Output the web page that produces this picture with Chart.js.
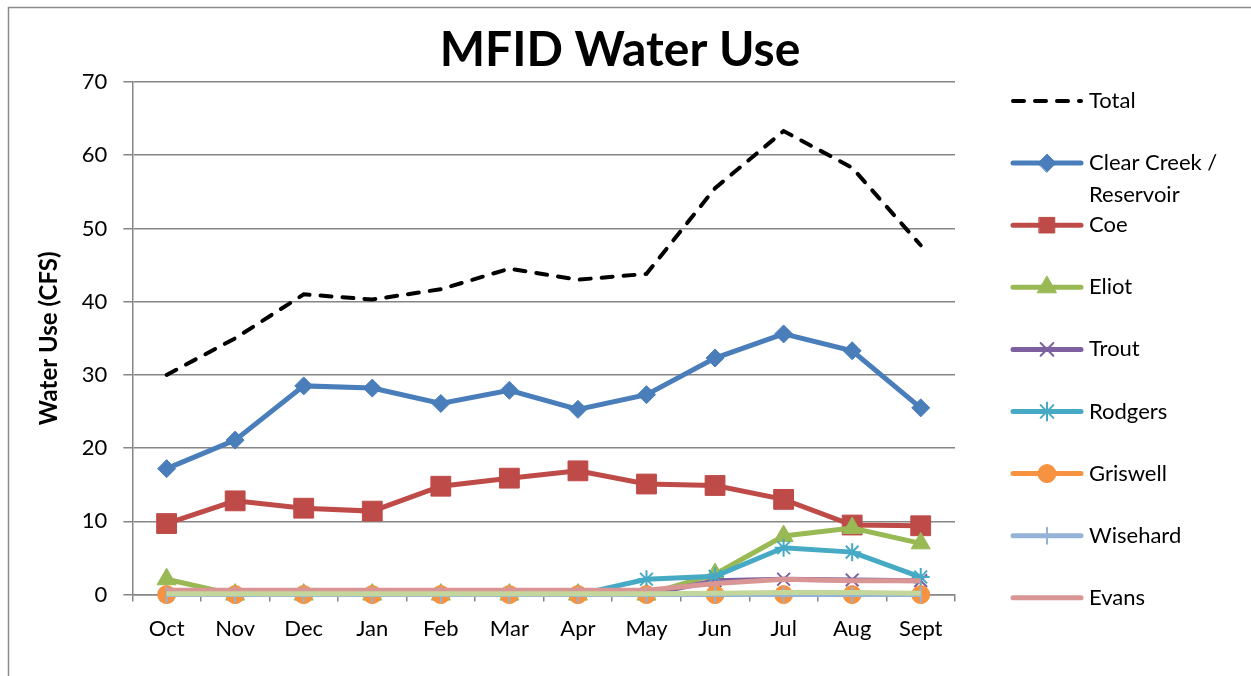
<!DOCTYPE html>
<html>
<head>
<meta charset="utf-8">
<script src="https://cdn.jsdelivr.net/npm/chart.js@4.4.0/dist/chart.umd.min.js"></script>
<style>
  html, body { margin: 0; padding: 0; background: #fff; }
  #wrap { width: 1251px; height: 676px; position: relative; }
</style>
</head>
<body>
<div id="wrap"><canvas id="chart" width="1251" height="676"></canvas></div>
<script>
// Month labels
const months = ['Oct', 'Nov', 'Dec', 'Jan', 'Feb', 'Mar', 'Apr', 'May', 'Jun', 'Jul', 'Aug', 'Sept'];

// Series values (CFS)
const total      = [30.0, 35.0, 41.0, 40.3, 41.7, 44.5, 43.0, 43.8, 55.5, 63.3, 58.3, 47.7];
const clearCreek = [17.2, 21.1, 28.5, 28.2, 26.1, 27.9, 25.3, 27.3, 32.3, 35.6, 33.3, 25.5];
const coe        = [9.7, 12.8, 11.8, 11.4, 14.8, 15.9, 16.9, 15.1, 14.9, 13.0, 9.5, 9.4];
const eliot      = [2.1, 0, 0, 0, 0, 0, 0, 0, 2.8, 8.0, 9.1, 7.0];
const trout      = [0, 0, 0, 0, 0, 0, 0, 0, 1.9, 2.1, 2.0, 1.9];
const rodgers    = [0, 0, 0, 0, 0, 0, 0, 2.1, 2.5, 6.4, 5.8, 2.4];
const griswell   = [0, 0, 0, 0, 0, 0, 0, 0, 0, 0, 0, 0];
const wisehard   = [0, 0, 0, 0, 0, 0, 0, 0, 0, 0, 0, 0];
const evans      = [0.6, 0.6, 0.6, 0.6, 0.6, 0.6, 0.6, 0.6, 1.5, 2.1, 1.9, 1.9];
const other      = [0.1, 0.1, 0.1, 0.1, 0.1, 0.1, 0.1, 0.1, 0.2, 0.3, 0.3, 0.2];

// Y-axis ticks
const yTicks = [0, 10, 20, 30, 40, 50, 60, 70];

const chartTitle = 'MFID Water Use';
const FONT = "Lato, 'Open Sans', sans-serif";

function series(label, data, color, style, radius, extra) {
    return Object.assign({
        label: label,
        data: data,
        borderColor: color,
        backgroundColor: color,
        borderWidth: 5,
        pointStyle: style,
        pointRadius: radius,
        pointHoverRadius: radius,
        pointBorderWidth: 1,
        pointBorderColor: color,
        pointBackgroundColor: color,
        tension: 0,
        clip: false,
        inLegend: true
    }, extra || {});
}

const datasets = [
    series('Total', total, '#000000', false, 0, { borderWidth: 4, borderDash: [11, 11], borderCapStyle: 'round' }),
    series(['Clear Creek /', 'Reservoir'], clearCreek, '#4A7EBB', 'rectRot', 9),
    series('Coe', coe, '#BE4B48', 'rect', 14),
    series('Eliot', eliot, '#98B954', 'triangle', 11),
    series('Trout', trout, '#7D60A0', 'crossRot', 9, { pointBorderWidth: 2 }),
    series('Rodgers', rodgers, '#46AAC5', 'star', 9, { pointBorderWidth: 2 }),
    series('Griswell', griswell, '#F69240', 'circle', 9),
    series('Wisehard', wisehard, '#95B3D7', 'line', 8, { pointRotation: 90, pointBorderWidth: 2 }),
    series('Evans', evans, '#D99694', false, 0),
    series('Other', other, '#C3D69B', false, 0, { inLegend: false })
];
// later series drawn on top, as in the original
datasets.forEach((ds, i) => { ds.order = -i; });

// Frame, centred title and legend on the right
const framePlugin = {
    id: 'frame',
    beforeDraw(chart) {
        const ctx = chart.ctx;
        ctx.save();
        ctx.fillStyle = '#fff';
        ctx.fillRect(0, 0, chart.width, chart.height);
        ctx.strokeStyle = '#8c8c8c';
        ctx.lineWidth = 1.5;
        ctx.strokeRect(8.5, 7.5, 1300, 700);
        ctx.fillStyle = '#000';
        ctx.font = 'bold 48px ' + FONT;
        ctx.textAlign = 'center';
        ctx.textBaseline = 'middle';
        ctx.fillText(chartTitle, 620, 51);
        ctx.restore();
    },
    afterDraw(chart) {
        const ctx = chart.ctx;
        const x0 = 1013, x1 = 1081, tx = 1089;
        let y = 101;
        ctx.save();
        chart.data.datasets.forEach(ds => {
            if (!ds.inLegend) return;
            ctx.beginPath();
            ctx.strokeStyle = ds.borderColor;
            ctx.lineWidth = ds.borderWidth;
            ctx.lineCap = 'round';
            ctx.setLineDash(ds.borderDash || []);
            ctx.moveTo(x0, y);
            ctx.lineTo(x1, y);
            ctx.stroke();
            ctx.setLineDash([]);
            if (ds.pointStyle) {
                ctx.fillStyle = ds.pointBackgroundColor;
                ctx.strokeStyle = ds.pointBorderColor;
                ctx.lineWidth = ds.pointBorderWidth;
                Chart.helpers.drawPoint(ctx, {
                    pointStyle: ds.pointStyle,
                    radius: ds.pointStyle === 'rect' ? 11 : ds.pointRadius,
                    rotation: ds.pointRotation || 0,
                    borderWidth: ds.pointBorderWidth
                }, (x0 + x1) / 2, y);
            }
            ctx.fillStyle = '#000';
            ctx.font = '22px ' + FONT;
            ctx.textBaseline = 'middle';
            ctx.textAlign = 'left';
            const lines = Array.isArray(ds.label) ? ds.label : [ds.label];
            lines.forEach((t, k) => ctx.fillText(t, tx, y + k * 32));
            y += 62.1;
        });
        ctx.restore();
    }
};

new Chart(document.getElementById('chart'), {
    type: 'line',
    data: { labels: months, datasets: datasets },
    plugins: [framePlugin],
    options: {
        responsive: false,
        animation: false,
        events: [],
        layout: { padding: { left: 9, right: 296, top: 82, bottom: 20 } },
        plugins: {
            legend: { display: false },
            tooltip: { enabled: false },
            title: { display: false }
        },
        scales: {
            x: {
                offset: true,
                grid: {
                    display: true,
                    drawOnChartArea: false,
                    drawTicks: true,
                    tickLength: 7,
                    offset: true,
                    color: '#868686',
                    lineWidth: 1.5
                },
                border: { color: '#868686', width: 1.5 },
                ticks: { color: '#000', padding: 14, font: { family: FONT, size: 22 } }
            },
            y: {
                min: 0,
                max: 70,
                afterBuildTicks(axis) { axis.ticks = yTicks.map(v => ({ value: v })); },
                grid: { color: '#868686', lineWidth: 1.5, tickLength: 9 },
                border: { color: '#868686', width: 1.5 },
                ticks: { color: '#000', padding: 16, font: { family: FONT, size: 22 } },
                title: {
                    display: true,
                    text: 'Water Use (CFS)',
                    color: '#000',
                    font: { family: FONT, size: 24, weight: 'bold' },
                    padding: { top: 26, bottom: 2 }
                }
            }
        }
    }
});
</script>
</body>
</html>
